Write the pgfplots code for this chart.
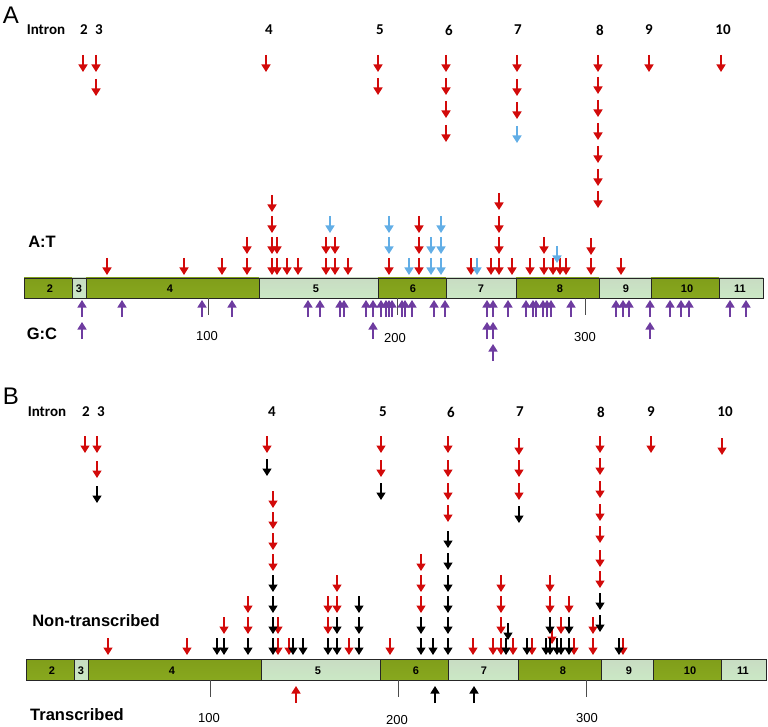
\documentclass[border=0pt]{standalone}
\usepackage{pgfplots}
\pgfplotsset{compat=1.18}
\usepackage{pgfplotstable}
\usepackage{fontspec}
\setmainfont{Liberation Sans}
\newfontfamily\carlito{Carlito}
\usetikzlibrary{arrows.meta}
\definecolor{arred}{HTML}{D20A0A}
\definecolor{arblue}{HTML}{62AEE6}
\definecolor{arpurp}{HTML}{6E3CA0}
\definecolor{gtop}{HTML}{809E1A}
\definecolor{gmid}{HTML}{B0CE3E}
\definecolor{gbot}{HTML}{88A81E}
\definecolor{ptop}{HTML}{C8DCC3}
\definecolor{pmid}{HTML}{F3FCF2}
\definecolor{pbot}{HTML}{CBE8C5}
\tikzset{greenex/.style={top color=gtop, middle color=gmid, bottom color=gbot},
         paleex/.style={top color=ptop, middle color=pmid, bottom color=pbot}}

% ---------- Panel A data (pixel-like coordinates, y = arrow tip) ----------
\pgfplotstableread{
x y
83 72
96 72
96 96
266 72
378 72
378 95
446 72
446 95
446 118
446 142
517 72
517 96
517 119
598 72
598 94
598 117
598 140
598 163
598 186
598 208
649 72
721 72
107 275
184 275
222 275
247 275
247 254
272 275
272 254
272 233
272 212
277 275
277 254
287 275
298 275
326 275
326 254
335 275
335 254
348 275
389 275
419 275
419 254
419 233
471 275
491 275
499 275
499 254
499 233
499 210
512 275
530 275
544 275
544 254
553 275
560 275
566 275
591 275
591 255
621 275
}\redA

\pgfplotstableread{
x y
517 143
330 233
389 254
389 233
409 275
431 275
431 254
441 275
441 254
441 233
477 275
557 263
}\blueA

\pgfplotstableread{
x y
82 300
122 300
202 300
232 300
308 300
320 300
340 300
344 300
366 300
373 300
381 300
386 300
389 300
392 300
402 300
405 300
412 300
434 300
445 300
487 300
493 300
508 300
526 300
533 300
536 300
543 300
547 300
551 300
571 300
616 300
623 300
629 300
650 300
670 300
681 300
689 300
730 300
746 300
82 322
373 322
487 322
493 322
650 322
493 344
}\purpA

% ---------- Panel B data ----------
\pgfplotstableread{
x y
85 453
97 453
97 478
267 453
381 453
381 477
448 453
448 477
448 500
448 522
519 455
519 477
519 500
600 453
600 475
600 498
600 521
600 543
600 567
600 588
651 453
722 455
108 655
187 655
224 634
248 634
248 613
273 571
273 550
273 529
273 508
278 655
278 634
289 655
328 634
328 613
337 613
337 592
349 655
390 655
421 613
421 592
421 571
473 655
493 655
501 655
501 634
501 613
501 592
513 655
532 655
550 613
550 592
552 644
561 634
569 613
574 655
593 655
593 634
623 655
}\redB

\pgfplotstableread{
x y
97 503
267 476
381 500
519 523
600 610
600 632
217 655
224 655
248 655
273 655
273 634
273 613
273 592
293 655
303 655
328 655
337 655
337 634
359 655
359 634
359 613
421 655
421 634
433 655
448 548
448 570
448 592
448 613
448 634
448 655
506 655
508 640
527 655
546 655
550 655
550 634
557 655
561 655
569 655
569 634
619 655
}\blackB

\pgfplotstableread{
x y
296 686
}\redupB

\pgfplotstableread{
x y
435 686
474 686
}\blackupB

\newcommand{\exon}[5]{\addplot[draw=black!85, line width=0.8pt, #5] coordinates {(#1,#3) (#2,#3) (#2,#4) (#1,#4) (#1,#3)};}

\begin{document}
\begin{tikzpicture}
\begin{axis}[
  width=768pt, height=727pt, scale only axis,
  xmin=0, xmax=768, ymin=0, ymax=727, y dir=reverse,
  hide axis, clip=false,
  darr/.style={line width=1.5pt, -{Triangle[width=9pt,length=7.5pt]}, quiver={u=0,v=17}},
  uarr/.style={line width=1.5pt, -{Triangle[width=9pt,length=7.5pt]}, quiver={u=0,v=-17}},
]
% invisible frame to fix the bounding box
\addplot[draw=none] coordinates {(0,0) (768,727)};

% ===== Panel A exon bar =====
\exon{24}{72}{278}{298}{greenex}
\exon{72}{86}{278}{298}{paleex}
\exon{86}{259}{278}{298}{greenex}
\exon{259}{378}{278}{298}{paleex}
\exon{378}{446}{278}{298}{greenex}
\exon{446}{516}{278}{298}{paleex}
\exon{516}{599}{278}{298}{greenex}
\exon{599}{651}{278}{298}{paleex}
\exon{651}{719}{278}{298}{greenex}
\exon{719}{763}{278}{298}{paleex}

% scale ticks A
\addplot[black!70, line width=0.8pt] coordinates {(208,298) (208,315)};
\addplot[black!70, line width=0.8pt] coordinates {(397,298) (397,315)};
\addplot[black!70, line width=0.8pt] coordinates {(585,298) (585,315)};

% ===== Panel B exon bar =====
\exon{26}{74}{659}{680}{greenex}
\exon{74}{88}{659}{680}{paleex}
\exon{88}{261}{659}{680}{greenex}
\exon{261}{380}{659}{680}{paleex}
\exon{380}{448}{659}{680}{greenex}
\exon{448}{518}{659}{680}{paleex}
\exon{518}{601}{659}{680}{greenex}
\exon{601}{653}{659}{680}{paleex}
\exon{653}{721}{659}{680}{greenex}
\exon{721}{766}{659}{680}{paleex}

\addplot[black!70, line width=0.8pt] coordinates {(210,680) (210,697)};
\addplot[black!70, line width=0.8pt] coordinates {(398,680) (398,697)};
\addplot[black!70, line width=0.8pt] coordinates {(586,680) (586,697)};

% ===== arrows =====
\addplot[darr, color=arred] table[x=x, y expr=\thisrow{y}-17] {\redA};
\addplot[darr, color=arblue] table[x=x, y expr=\thisrow{y}-17] {\blueA};
\addplot[uarr, color=arpurp] table[x=x, y expr=\thisrow{y}+17] {\purpA};
\addplot[darr, color=arred] table[x=x, y expr=\thisrow{y}-17] {\redB};
\addplot[darr, color=black] table[x=x, y expr=\thisrow{y}-17] {\blackB};
\addplot[uarr, color=arred] table[x=x, y expr=\thisrow{y}+17] {\redupB};
\addplot[uarr, color=black] table[x=x, y expr=\thisrow{y}+17] {\blackupB};

% ===== text =====
\tikzset{exlab/.style={font=\fontsize{11}{12}\selectfont\bfseries, inner sep=0pt},
         intr/.style={font=\fontsize{15}{17}\carlito\bfseries, inner sep=0pt},
         big/.style={font=\fontsize{16.5}{18}\selectfont\bfseries, inner sep=0pt},
         tl/.style={font=\fontsize{13}{15}\selectfont, inner sep=0pt},
         pl/.style={font=\fontsize{24}{26}\selectfont, inner sep=0pt}}
\node[pl] at (axis cs:11,15) {A};
\node[pl] at (axis cs:11,396) {B};

\node[intr] at (axis cs:46,30) {Intron};
\node[intr] at (axis cs:84,30) {2};
\node[intr] at (axis cs:99,30) {3};
\node[intr] at (axis cs:269,30) {4};
\node[intr] at (axis cs:380,30) {5};
\node[intr] at (axis cs:449,30) {6};
\node[intr] at (axis cs:518,30) {7};
\node[intr] at (axis cs:600,30) {8};
\node[intr] at (axis cs:649,30) {9};
\node[intr] at (axis cs:723,30) {10};

\node[intr] at (axis cs:47,412) {Intron};
\node[intr] at (axis cs:86,412) {2};
\node[intr] at (axis cs:101,412) {3};
\node[intr] at (axis cs:272,412) {4};
\node[intr] at (axis cs:383,412) {5};
\node[intr] at (axis cs:451,412) {6};
\node[intr] at (axis cs:520,412) {7};
\node[intr] at (axis cs:601,412) {8};
\node[intr] at (axis cs:651,412) {9};
\node[intr] at (axis cs:725,412) {10};

\node[big] at (axis cs:42,242) {A:T};
\node[big] at (axis cs:42,334) {G:C};
\node[big] at (axis cs:96,621) {Non-transcribed};
\node[big] at (axis cs:77,715) {Transcribed};

\node[tl] at (axis cs:207,336) {100};
\node[tl] at (axis cs:395,338) {200};
\node[tl] at (axis cs:585,337) {300};
\node[tl] at (axis cs:209,718) {100};
\node[tl] at (axis cs:397,720) {200};
\node[tl] at (axis cs:587,718) {300};

\node[exlab] at (axis cs:50,289) {2};
\node[exlab] at (axis cs:79,289) {3};
\node[exlab] at (axis cs:170,289) {4};
\node[exlab] at (axis cs:316,289) {5};
\node[exlab] at (axis cs:413,289) {6};
\node[exlab] at (axis cs:481,289) {7};
\node[exlab] at (axis cs:560,289) {8};
\node[exlab] at (axis cs:626,289) {9};
\node[exlab] at (axis cs:687,289) {10};
\node[exlab] at (axis cs:740,289) {11};

\node[exlab] at (axis cs:52,671) {2};
\node[exlab] at (axis cs:81,671) {3};
\node[exlab] at (axis cs:172,671) {4};
\node[exlab] at (axis cs:318,671) {5};
\node[exlab] at (axis cs:416,671) {6};
\node[exlab] at (axis cs:484,671) {7};
\node[exlab] at (axis cs:563,671) {8};
\node[exlab] at (axis cs:629,671) {9};
\node[exlab] at (axis cs:690,671) {10};
\node[exlab] at (axis cs:743,671) {11};
\end{axis}
\end{tikzpicture}
\end{document}
